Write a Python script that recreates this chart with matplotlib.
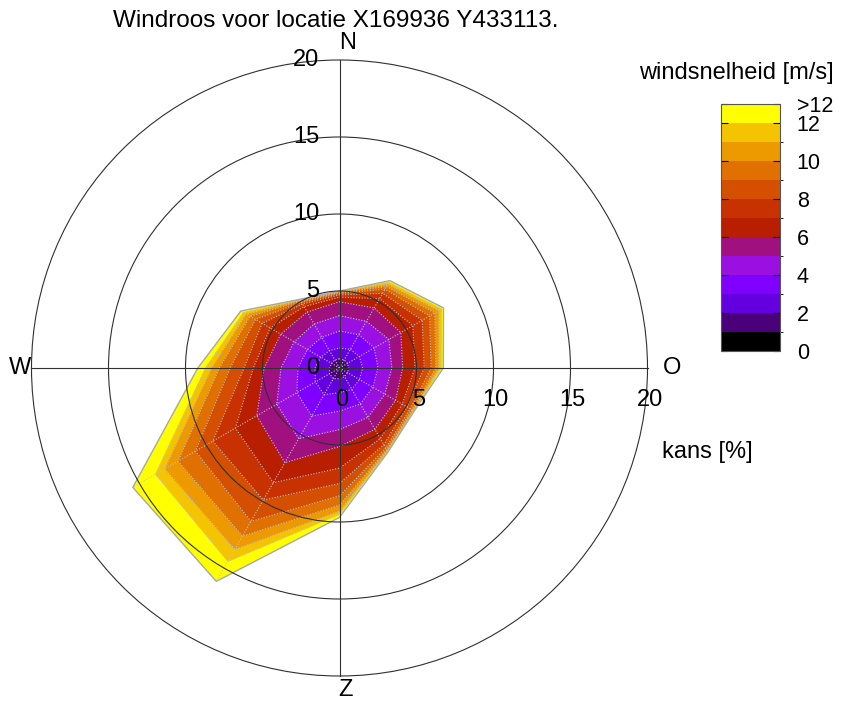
import numpy as np
import matplotlib.pyplot as plt
from matplotlib.colors import ListedColormap, BoundaryNorm
from matplotlib.cm import ScalarMappable

plt.rcParams['font.family'] = ['Liberation Sans', 'DejaVu Sans']

titel = "Windroos voor locatie X169936 Y433113."

# wind directions in degrees, clockwise from north
richtingen = [0, 30, 60, 90, 120, 150, 180, 210, 240, 270, 300, 330]

# cumulative kans [%] per direction, summed up to 1, 2, ..., 12 m/s and then all speeds
kans_cum = [
    [0.05, 0.6, 1.3, 2.4, 3.4, 4.3, 4.6, 4.75, 4.85, 4.91, 4.95, 4.98, 5.0],
    [0.05, 0.6, 1.4, 2.5, 3.5, 4.5, 5.2, 5.6, 5.9, 6.1, 6.28, 6.42, 6.55],
    [0.05, 0.6, 1.5, 2.6, 3.7, 4.6, 5.5, 6.2, 6.75, 7.15, 7.45, 7.65, 7.8],
    [0.05, 0.6, 1.5, 2.5, 3.4, 4.1, 4.9, 5.5, 5.95, 6.25, 6.45, 6.6, 6.74],
    [0.05, 0.6, 1.5, 2.5, 3.4, 4.2, 4.7, 5.05, 5.3, 5.43, 5.52, 5.57, 5.6],
    [0.05, 0.65, 1.6, 2.7, 3.7, 4.6, 5.3, 5.75, 6.0, 6.12, 6.2, 6.26, 6.3],
    [0.05, 0.7, 1.6, 2.8, 4.0, 5.1, 6.5, 7.5, 8.3, 8.9, 9.3, 9.5, 9.7],
    [0.05, 0.8, 2.0, 3.6, 5.3, 7.1, 8.6, 9.9, 11.5, 12.6, 13.6, 14.5, 16.0],
    [0.05, 0.75, 1.8, 3.2, 4.7, 6.2, 7.8, 9.5, 10.8, 12.1, 13.1, 13.8, 15.5],
    [0.05, 0.65, 1.6, 2.7, 3.8, 4.9, 5.6, 6.2, 7.1, 7.8, 8.3, 8.7, 9.2],
    [0.05, 0.6, 1.4, 2.4, 3.4, 4.4, 5.2, 5.8, 6.3, 6.7, 7.0, 7.2, 7.4],
    [0.05, 0.6, 1.3, 2.3, 3.3, 4.2, 4.6, 4.8, 4.93, 5.02, 5.08, 5.12, 5.15],
]

snelheid_grenzen = list(range(14))
klasse_kleuren = ['#000000', '#4a0078', '#6400e0', '#8000ff', '#9a10e0',
                  '#a0107e', '#b81e00', '#c83200', '#d45000', '#e07000',
                  '#ec9a00', '#f5c400', '#ffff00']
cbar_ticks = [0, 2, 4, 6, 8, 10, 12, 13]
cbar_labels = ['0', '2', '4', '6', '8', '10', '12', '>12']

ringen = [5, 10, 15, 20]
as_labels = [0, 5, 10, 15, 20]
windstreken = ['N', 'O', 'Z', 'W']

W, H = 841, 701
cx, cy, schaal = 339.5, 368.0, 15.4   # centre in pixels, pixels per %

fig = plt.figure(figsize=(W / 100, H / 100), dpi=100)
ax = fig.add_axes([0, 0, 1, 1])
ax.set_xlim(-cx / schaal, (W - cx) / schaal)
ax.set_ylim(-(H - cy) / schaal, cy / schaal)
ax.axis('off')

theta = np.deg2rad(richtingen)
cum = np.array(kans_cum)

# filled rings, outermost class first
for k in range(cum.shape[1] - 1, -1, -1):
    r = cum[:, k]
    x, y = r * np.sin(theta), r * np.cos(theta)
    ax.fill(x, y, color=klasse_kleuren[k], lw=0.4, zorder=1)
    if k < cum.shape[1] - 1:
        ax.plot(np.append(x, x[0]), np.append(y, y[0]), color='#c4c4c4',
                ls=(0, (1, 1.5)), lw=0.8, zorder=2)

rbuiten = cum[:, -1]
xb, yb = rbuiten * np.sin(theta), rbuiten * np.cos(theta)
ax.plot(np.append(xb, xb[0]), np.append(yb, yb[0]), color='#a8a8a8', lw=1.0, zorder=2)
for t, rm in zip(theta, rbuiten):
    ax.plot([0, rm * np.sin(t)], [0, rm * np.cos(t)], color='#c4c4c4',
            ls=(0, (1, 1.5)), lw=0.8, zorder=2)

# grid circles and axes
for r in ringen:
    ax.add_patch(plt.Circle((0, 0), r, fill=False, ec='#303030', lw=0.8, zorder=3))
ax.plot([-20, 20], [0, 0], color='#303030', lw=0.8, zorder=3)
ax.plot([0, 0], [-20, 20], color='#303030', lw=0.8, zorder=3)

fs = 17
for v in as_labels:
    ax.text(-1.3, v, str(v), ha='right', va='center', fontsize=fs, zorder=4)
    ax.text(v + 0.15, -2.1, str(v), ha='center', va='center', fontsize=fs, zorder=4)

ax.text(0.55, 21.1, windstreken[0], ha='center', va='center', fontsize=fs)
ax.text(21.6, 0.0, windstreken[1], ha='center', va='center', fontsize=fs)
ax.text(0.42, -20.9, windstreken[2], ha='center', va='center', fontsize=fs)
ax.text(-20.75, 0.0, windstreken[3], ha='center', va='center', fontsize=fs)
ax.text(23.87, -5.45, 'kans [%]', ha='center', va='center', fontsize=fs)

fig.text(336 / W, 1 - 21 / H, titel, ha='center', va='center', fontsize=17.5)
fig.text(736 / W, 1 - 73 / H, 'windsnelheid [m/s]', ha='center', va='center', fontsize=fs)

# colour bar for the wind speed classes
cax = fig.add_axes([721 / W, 1 - 351 / H, 59 / W, 247 / H])
cmap = ListedColormap(klasse_kleuren)
norm = BoundaryNorm(snelheid_grenzen, cmap.N)
cb = fig.colorbar(ScalarMappable(norm=norm, cmap=cmap), cax=cax, ticks=cbar_ticks)
cb.ax.set_yticklabels(cbar_labels)
cb.ax.tick_params(direction='in', left=True, right=True, length=5, width=0.8,
                  labelsize=15.5, pad=12)
cb.outline.set_edgecolor('#555555')
cb.outline.set_linewidth(0.8)

fig.savefig('out.png', dpi=100)
